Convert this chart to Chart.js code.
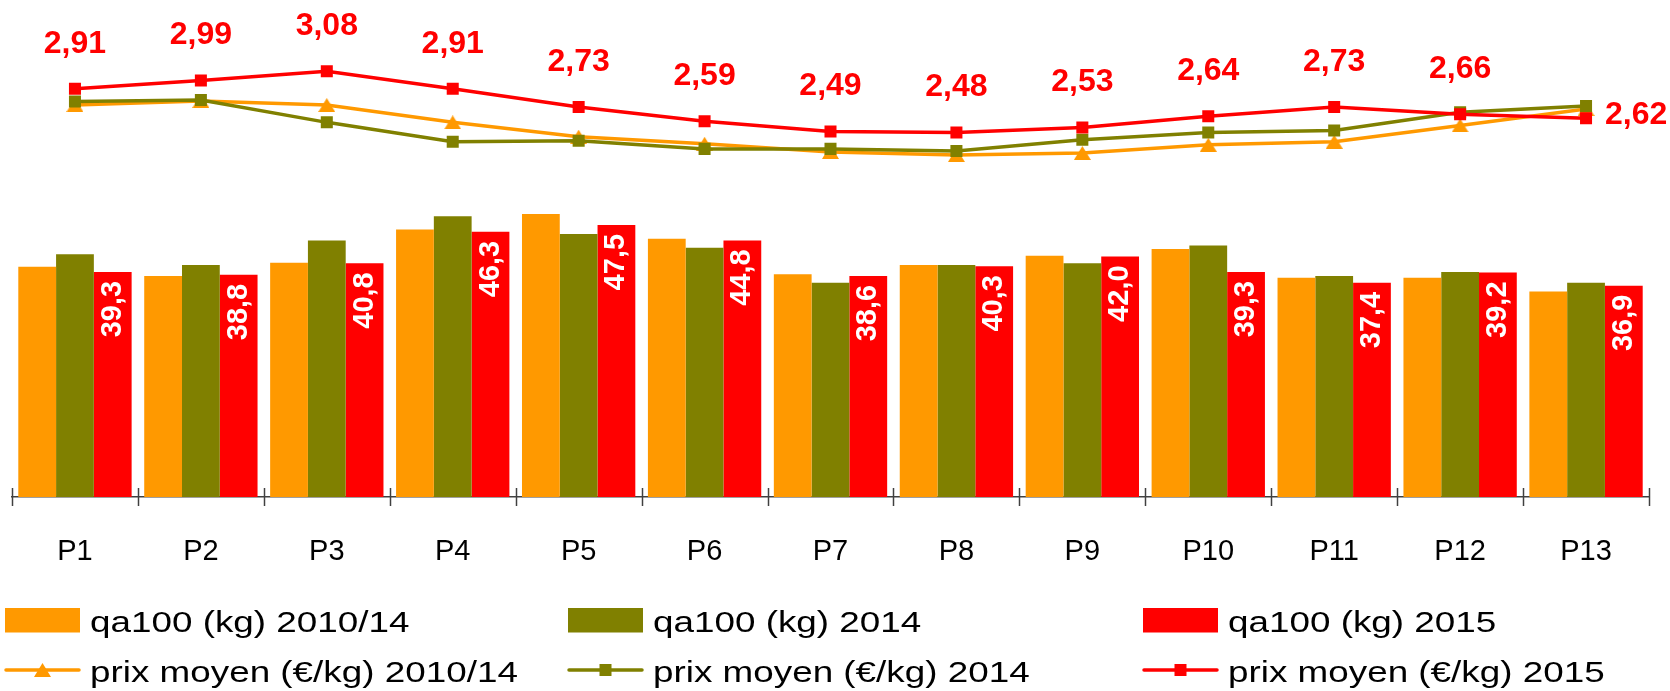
<!DOCTYPE html>
<html><head><meta charset="utf-8">
<script src="https://cdn.jsdelivr.net/npm/chart.js@4.4.1/dist/chart.umd.min.js"></script>
<style>
html,body{margin:0;padding:0;background:#fff;}
#wrap{position:relative;width:1670px;height:691px;overflow:hidden;background:#fff;}
#c{position:absolute;left:0;top:0;}
.lgt{position:absolute;font-family:'Liberation Sans',Arial,sans-serif;font-size:29px;line-height:29px;color:#000;white-space:nowrap;transform:scaleX(1.27);transform-origin:0 0;}
.lgm{position:absolute;}
</style></head>
<body>
<div id="wrap"><canvas id="c" width="1670" height="691"></canvas><div id="legend"></div></div>
<script>
// ---- data ----
const categories = ['P1','P2','P3','P4','P5','P6','P7','P8','P9','P10','P11','P12','P13'];
const qa2010_14 = [40.2, 38.6, 40.9, 46.7, 49.4, 45.1, 38.9, 40.5, 42.1, 43.3, 38.3, 38.3, 35.9];
const qa2014    = [42.4, 40.5, 44.8, 49.0, 45.9, 43.5, 37.4, 40.5, 40.8, 43.9, 38.6, 39.3, 37.4];
const qa2015    = [39.3, 38.8, 40.8, 46.3, 47.5, 44.8, 38.6, 40.3, 42.0, 39.3, 37.4, 39.2, 36.9];
const prix2010_14 = [2.75, 2.79, 2.75, 2.58, 2.44, 2.37, 2.29, 2.26, 2.28, 2.36, 2.39, 2.55, 2.71];
const prix2014    = [2.785, 2.80, 2.58, 2.39, 2.40, 2.32, 2.32, 2.30, 2.41, 2.48, 2.50, 2.68, 2.74];
const prix2015    = [2.91, 2.99, 3.08, 2.91, 2.73, 2.59, 2.49, 2.48, 2.53, 2.64, 2.73, 2.66, 2.62];
const seriesLabels = ['qa100 (kg) 2010/14','qa100 (kg) 2014','qa100 (kg) 2015',
  'prix moyen (\u20ac/kg) 2010/14','prix moyen (\u20ac/kg) 2014','prix moyen (\u20ac/kg) 2015'];

const ORANGE = '#FF9900', OLIVE = '#808000', RED = '#FF0000';
const FONT = "'Liberation Sans', Arial, sans-serif";

// triangle marker centred on its bounding box
function makeTriangle(color, w, h){
  const cv = document.createElement('canvas');
  cv.width = w; cv.height = h;
  const g = cv.getContext('2d');
  g.fillStyle = color;
  g.beginPath(); g.moveTo(w/2, 0); g.lineTo(w, h); g.lineTo(0, h); g.closePath(); g.fill();
  return cv;
}
const tri = makeTriangle(ORANGE, 17, 14);

const fmt = (v, d) => v.toFixed(d).replace('.', ',');

const tickPlugin = {
  id: 'catTicks',
  afterDraw(chart){
    const {ctx, chartArea} = chart;
    const n = categories.length;
    const w = (chartArea.right - chartArea.left) / n;
    ctx.save();
    ctx.strokeStyle = '#404040'; ctx.lineWidth = 1.5;
    for (let i = 0; i <= n; i++){
      const x = Math.round(chartArea.left + i * w) + 0.5;
      ctx.beginPath(); ctx.moveTo(x, chartArea.bottom - 9); ctx.lineTo(x, chartArea.bottom + 9); ctx.stroke();
    }
    ctx.restore();
  }
};

const labelPlugin = {
  id: 'valueLabels',
  afterDatasetsDraw(chart){
    const ctx = chart.ctx;
    ctx.save();
    // bar labels (2015)
    const bm = chart.getDatasetMeta(2);
    ctx.fillStyle = '#FFFFFF';
    ctx.font = 'bold 29px ' + FONT;
    bm.data.forEach((bar, i) => {
      ctx.save();
      ctx.translate(bar.x, bar.y + 9);
      ctx.rotate(-Math.PI / 2);
      ctx.textAlign = 'right'; ctx.textBaseline = 'middle';
      ctx.fillText(fmt(qa2015[i], 1), 0, 0);
      ctx.restore();
    });
    // line labels (prix 2015)
    const lm = chart.getDatasetMeta(5);
    ctx.fillStyle = RED;
    ctx.font = 'bold 32px ' + FONT;
    ctx.textBaseline = 'middle';
    lm.data.forEach((pt, i) => {
      const t = fmt(prix2015[i], 2);
      if (i === lm.data.length - 1){
        ctx.textAlign = 'left'; ctx.fillText(t, pt.x + 19, pt.y - 3);
      } else {
        ctx.textAlign = 'center'; ctx.fillText(t, pt.x, pt.y - 45);
      }
    });
    ctx.restore();
  }
};

const chart = new Chart(document.getElementById('c'), {
  data: {
    labels: categories,
    datasets: [
      {type:'bar', label:seriesLabels[0], data:qa2010_14, backgroundColor:ORANGE, yAxisID:'y', order:3},
      {type:'bar', label:seriesLabels[1], data:qa2014, backgroundColor:OLIVE, yAxisID:'y', order:3},
      {type:'bar', label:seriesLabels[2], data:qa2015, backgroundColor:RED, yAxisID:'y', order:3},
      {type:'line', label:seriesLabels[3], data:prix2010_14, borderColor:ORANGE, backgroundColor:ORANGE, borderWidth:3.5,
        pointStyle:tri, pointRadius:9, pointBorderWidth:0, yAxisID:'y2', order:2, tension:0},
      {type:'line', label:seriesLabels[4], data:prix2014, borderColor:OLIVE, backgroundColor:OLIVE, borderWidth:3.5,
        pointStyle:'rect', pointRadius:8.5, pointBorderWidth:0, yAxisID:'y2', order:1, tension:0},
      {type:'line', label:seriesLabels[5], data:prix2015, borderColor:RED, backgroundColor:RED, borderWidth:3.5,
        pointStyle:'rect', pointRadius:8.5, pointBorderWidth:0, yAxisID:'y2', order:0, tension:0}
    ]
  },
  options: {
    responsive:false, animation:false, devicePixelRatio:1,
    layout:{padding:{left:12, right:21, top:0, bottom:114}},
    datasets:{bar:{categoryPercentage:0.9, barPercentage:1.0, borderWidth:0}},
    plugins:{legend:{display:false}, tooltip:{enabled:false}},
    scales:{
      x:{offset:true,
         grid:{display:false, drawTicks:false, tickLength:0},
         border:{display:true, color:'#404040', width:1.5},
         ticks:{color:'#000', font:{family:FONT, size:29}, padding:38, maxRotation:0, autoSkip:false},
         afterFit(s){ s.height = 80; }},
      y:{display:false, min:0, max:85.2},
      y2:{display:false, min:-1.092, max:3.691}
    }
  },
  plugins:[tickPlugin, labelPlugin]
});

// ---- HTML legend built from the datasets ----
(function(){
  const lg = document.getElementById('legend');
  const colX = [5.3, 567.6, 1142.7];
  chart.data.datasets.forEach((ds, i) => {
    const col = i % 3, row = Math.floor(i / 3);
    const x = colX[col];
    const cy = row === 0 ? 620 : 670;
    const svgNS = 'http://www.w3.org/2000/svg';
    const svg = document.createElementNS(svgNS, 'svg');
    svg.setAttribute('width', 78); svg.setAttribute('height', 26);
    svg.setAttribute('class', 'lgm');
    svg.style.left = (x - 1) + 'px'; svg.style.top = (cy - 13) + 'px';
    const c = ds.backgroundColor;
    if (ds.type === 'bar'){
      const r = document.createElementNS(svgNS, 'rect');
      r.setAttribute('x', 1); r.setAttribute('y', 1); r.setAttribute('width', 75); r.setAttribute('height', 24.5);
      r.setAttribute('fill', c); svg.appendChild(r);
    } else {
      const l = document.createElementNS(svgNS, 'line');
      l.setAttribute('x1', 2); l.setAttribute('x2', 75); l.setAttribute('y1', 13); l.setAttribute('y2', 13);
      l.setAttribute('stroke', c); l.setAttribute('stroke-width', 3.5); l.setAttribute('stroke-linecap', 'round');
      svg.appendChild(l);
      if (ds.pointStyle === 'rect'){
        const r = document.createElementNS(svgNS, 'rect');
        r.setAttribute('x', 38.5 - 6); r.setAttribute('y', 13 - 6); r.setAttribute('width', 12); r.setAttribute('height', 12);
        r.setAttribute('fill', c); svg.appendChild(r);
      } else {
        const p = document.createElementNS(svgNS, 'polygon');
        p.setAttribute('points', '38.5,6 47,20 30,20');
        p.setAttribute('fill', c); svg.appendChild(p);
      }
    }
    lg.appendChild(svg);
    const t = document.createElement('div');
    t.className = 'lgt';
    t.textContent = ds.label;
    t.style.left = (x + 85) + 'px';
    t.style.top = (row === 0 ? 607.5 : 657.5) + 'px';
    lg.appendChild(t);
  });
})();
</script>
</body></html>
